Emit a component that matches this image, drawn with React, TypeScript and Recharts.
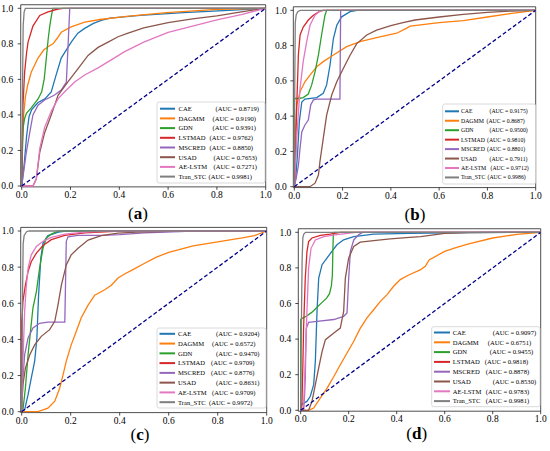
import React from "react";
import { LineChart, Line, XAxis, YAxis, ReferenceArea } from "recharts";

type P = [number, number];

const models = ["CAE", "DAGMM", "GDN", "LSTMAD", "MSCRED", "USAD", "AE-LSTM", "Tran_STC"];
const colors = ["#1f77b4", "#ff7f0e", "#2ca02c", "#d62728", "#9467bd", "#8c564b", "#e377c2", "#7f7f7f"];
const ticks = [0, 0.2, 0.4, 0.6, 0.8, 1.0];
const diagonal: P[] = [[0, 0], [1, 1]];

// AUC values from the legends
const aucA = [0.8719, 0.919, 0.9391, 0.9762, 0.885, 0.7653, 0.7271, 0.9981];
const aucB = [0.9175, 0.8687, 0.95, 0.981, 0.8801, 0.7911, 0.9712, 0.9986];
const aucC = [0.9204, 0.6572, 0.947, 0.9709, 0.8776, 0.8631, 0.9709, 0.9972];
const aucD = [0.9097, 0.6751, 0.9455, 0.9818, 0.8878, 0.853, 0.9783, 0.9981];

// (a) ROC curves, [fpr, tpr]
const A_CAE: P[] = [[0, 0], [0.01, 0.12], [0.02, 0.28], [0.03, 0.39], [0.041, 0.43], [0.067, 0.47], [0.095, 0.49], [0.121, 0.53], [0.14, 0.62], [0.162, 0.72], [0.203, 0.81], [0.23, 0.86], [0.258, 0.887], [0.294, 0.915], [0.326, 0.932], [0.362, 0.945], [0.485, 0.96], [0.663, 0.976], [0.867, 0.99], [1, 1]];
const A_DAGMM: P[] = [[0, 0], [0.003, 0.25], [0.008, 0.4], [0.015, 0.5], [0.025, 0.57], [0.039, 0.64], [0.067, 0.72], [0.09, 0.765], [0.108, 0.784], [0.128, 0.8], [0.145, 0.83], [0.162, 0.865], [0.203, 0.895], [0.258, 0.922], [0.321, 0.937], [0.43, 0.955], [0.594, 0.976], [0.8, 0.994], [1, 1]];
const A_GDN: P[] = [[0, 0], [0.003, 0.2], [0.006, 0.33], [0.012, 0.38], [0.02, 0.41], [0.039, 0.44], [0.067, 0.49], [0.082, 0.53], [0.092, 0.6], [0.101, 0.72], [0.108, 0.82], [0.115, 0.9], [0.122, 0.96], [0.128, 1], [1, 1]];
const A_LSTMAD: P[] = [[0, 0], [0.002, 0.2], [0.005, 0.45], [0.012, 0.64], [0.02, 0.75], [0.026, 0.81], [0.046, 0.9], [0.074, 0.96], [0.108, 0.98], [0.149, 0.996], [0.17, 1], [1, 1]];
const A_MSCRED: P[] = [[0, 0], [0.005, 0.05], [0.012, 0.12], [0.019, 0.19], [0.033, 0.3], [0.046, 0.4], [0.067, 0.455], [0.094, 0.484], [0.135, 0.512], [0.162, 0.54], [0.183, 0.585], [0.19, 0.79], [0.197, 1], [1, 1]];
const A_USAD: P[] = [[0, 0], [0.046, 0], [0.06, 0.04], [0.074, 0.19], [0.094, 0.3], [0.121, 0.4], [0.149, 0.51], [0.19, 0.587], [0.231, 0.66], [0.272, 0.735], [0.313, 0.78], [0.354, 0.81], [0.395, 0.84], [0.436, 0.86], [0.5, 0.89], [0.6, 0.92], [0.7, 0.94], [0.8, 0.957], [0.9, 0.98], [1, 1]];
const A_AELSTM: P[] = [[0, 0], [0.046, 0], [0.06, 0.04], [0.074, 0.21], [0.094, 0.33], [0.121, 0.42], [0.149, 0.49], [0.176, 0.53], [0.217, 0.585], [0.258, 0.625], [0.313, 0.665], [0.367, 0.71], [0.42, 0.755], [0.5, 0.81], [0.6, 0.865], [0.7, 0.9], [0.8, 0.935], [0.9, 0.965], [1, 1]];
const A_TRAN: P[] = [[0, 0], [0.003, 0.5], [0.006, 0.9], [0.01, 0.98], [0.015, 1], [1, 1]];

// (b)
const B_CAE: P[] = [[0, 0], [0.006, 0.05], [0.013, 0.18], [0.021, 0.37], [0.031, 0.48], [0.044, 0.497], [0.093, 0.505], [0.12, 0.53], [0.134, 0.577], [0.148, 0.69], [0.162, 0.84], [0.176, 0.915], [0.196, 0.963], [0.231, 0.992], [0.26, 1], [1, 1]];
const B_DAGMM: P[] = [[0, 0], [0.001, 0.05], [0.003, 0.27], [0.01, 0.46], [0.024, 0.54], [0.044, 0.595], [0.065, 0.633], [0.093, 0.68], [0.12, 0.709], [0.162, 0.747], [0.217, 0.794], [0.272, 0.822], [0.341, 0.845], [0.424, 0.87], [0.46, 0.895], [0.48, 0.91], [0.6, 0.93], [0.7, 0.942], [0.8, 0.962], [0.9, 0.982], [1, 1]];
const B_GDN: P[] = [[0, 0], [0, 0.5], [0.02, 0.5], [0.037, 0.505], [0.058, 0.525], [0.072, 0.577], [0.086, 0.652], [0.1, 0.747], [0.113, 0.86], [0.127, 0.972], [0.134, 1], [1, 1]];
const B_LSTMAD: P[] = [[0, 0], [0.003, 0.05], [0.007, 0.3], [0.01, 0.46], [0.014, 0.62], [0.017, 0.75], [0.024, 0.86], [0.037, 0.905], [0.058, 0.945], [0.079, 0.972], [0.106, 0.995], [0.12, 1], [1, 1]];
const B_MSCRED: P[] = [[0, 0], [0.008, 0.05], [0.017, 0.12], [0.024, 0.22], [0.031, 0.31], [0.044, 0.35], [0.058, 0.378], [0.068, 0.463], [0.079, 0.492], [0.093, 0.497], [0.189, 0.497], [0.192, 1], [1, 1]];
const B_USAD: P[] = [[0, 0], [0.065, 0], [0.086, 0.02], [0.1, 0.066], [0.106, 0.14], [0.12, 0.274], [0.134, 0.406], [0.155, 0.52], [0.176, 0.595], [0.203, 0.67], [0.231, 0.745], [0.258, 0.81], [0.3, 0.86], [0.341, 0.888], [0.4, 0.913], [0.45, 0.93], [0.5, 0.945], [0.6, 0.962], [0.7, 0.977], [0.8, 0.988], [0.9, 0.996], [1, 1]];
const B_AELSTM: P[] = [[0, 0], [0.004, 0.1], [0.01, 0.27], [0.017, 0.42], [0.024, 0.56], [0.037, 0.71], [0.051, 0.82], [0.065, 0.915], [0.086, 0.972], [0.106, 0.996], [0.12, 1], [1, 1]];
const B_TRAN: P[] = [[0, 0], [0.002, 0.6], [0.004, 0.93], [0.008, 0.975], [0.015, 0.993], [0.025, 1], [1, 1]];

// (c)
const C_CAE: P[] = [[0, 0], [0.012, 0.01], [0.026, 0.094], [0.039, 0.186], [0.053, 0.28], [0.062, 0.408], [0.069, 0.647], [0.078, 0.85], [0.087, 0.933], [0.107, 0.975], [0.15, 0.994], [0.18, 1], [1, 1]];
const C_DAGMM: P[] = [[0, 0], [0.067, 0], [0.107, 0.02], [0.135, 0.058], [0.155, 0.13], [0.169, 0.205], [0.182, 0.28], [0.202, 0.37], [0.223, 0.445], [0.243, 0.52], [0.271, 0.59], [0.298, 0.645], [0.339, 0.675], [0.366, 0.7], [0.393, 0.74], [0.42, 0.762], [0.454, 0.786], [0.5, 0.82], [0.55, 0.855], [0.6, 0.882], [0.7, 0.918], [0.8, 0.94], [0.9, 0.962], [0.95, 0.975], [1, 1]];
const C_GDN: P[] = [[0, 0], [0.005, 0.01], [0.015, 0.13], [0.026, 0.315], [0.037, 0.46], [0.046, 0.575], [0.06, 0.665], [0.073, 0.795], [0.087, 0.905], [0.1, 0.96], [0.121, 0.983], [0.15, 1], [1, 1]];
const C_LSTMAD: P[] = [[0, 0], [0, 0.5], [0.002, 0.53], [0.005, 0.61], [0.015, 0.7], [0.026, 0.775], [0.039, 0.83], [0.06, 0.878], [0.087, 0.92], [0.121, 0.952], [0.176, 0.976], [0.257, 0.99], [0.4, 1], [1, 1]];
const C_MSCRED: P[] = [[0, 0], [0.002, 0.08], [0.005, 0.185], [0.012, 0.315], [0.026, 0.408], [0.046, 0.463], [0.073, 0.489], [0.107, 0.496], [0.176, 0.496], [0.182, 0.943], [0.189, 0.968], [0.23, 0.976], [0.325, 0.976], [0.4, 0.98], [0.5, 0.99], [0.7, 1], [1, 1]];
const C_USAD: P[] = [[0, 0], [0.002, 0.07], [0.005, 0.15], [0.015, 0.24], [0.033, 0.315], [0.053, 0.37], [0.08, 0.417], [0.114, 0.454], [0.135, 0.5], [0.148, 0.59], [0.162, 0.7], [0.182, 0.812], [0.202, 0.868], [0.23, 0.905], [0.271, 0.95], [0.325, 0.975], [0.393, 0.988], [0.47, 0.994], [0.6, 0.998], [1, 1]];
const C_AELSTM: P[] = [[0, 0], [0.001, 0.02], [0.005, 0.28], [0.012, 0.555], [0.019, 0.7], [0.026, 0.795], [0.039, 0.868], [0.06, 0.915], [0.087, 0.943], [0.121, 0.965], [0.176, 0.983], [0.257, 0.994], [0.35, 1], [1, 1]];
const C_TRAN: P[] = [[0, 0], [0.003, 0.6], [0.006, 0.93], [0.01, 0.975], [0.02, 0.996], [0.03, 1], [1, 1]];

// (d)
const D_CAE: P[] = [[0, 0], [0, 0.03], [0.026, 0.05], [0.04, 0.079], [0.054, 0.144], [0.061, 0.275], [0.068, 0.555], [0.075, 0.743], [0.089, 0.818], [0.11, 0.856], [0.13, 0.893], [0.151, 0.93], [0.179, 0.958], [0.221, 0.976], [0.304, 0.99], [0.45, 0.994], [0.7, 0.998], [1, 1]];
const D_DAGMM: P[] = [[0, 0], [0.033, 0], [0.054, 0.013], [0.082, 0.07], [0.11, 0.125], [0.138, 0.19], [0.165, 0.256], [0.193, 0.322], [0.221, 0.388], [0.248, 0.46], [0.276, 0.519], [0.304, 0.565], [0.332, 0.612], [0.36, 0.65], [0.387, 0.697], [0.415, 0.734], [0.45, 0.76], [0.5, 0.79], [0.52, 0.81], [0.535, 0.845], [0.6, 0.893], [0.65, 0.915], [0.7, 0.935], [0.8, 0.968], [0.9, 0.988], [1, 1]];
const D_GDN: P[] = [[0, 0], [0, 0.51], [0.004, 0.515], [0.025, 0.53], [0.046, 0.55], [0.067, 0.578], [0.088, 0.605], [0.108, 0.63], [0.12, 0.655], [0.128, 0.7], [0.132, 0.76], [0.134, 0.9], [0.136, 0.985], [0.14, 1], [1, 1]];
const D_LSTMAD: P[] = [[0, 0], [0.005, 0.02], [0.009, 0.25], [0.012, 0.46], [0.019, 0.74], [0.026, 0.89], [0.033, 0.948], [0.047, 0.968], [0.082, 0.983], [0.123, 0.99], [0.165, 1], [1, 1]];
const D_MSCRED: P[] = [[0, 0], [0.012, 0], [0.016, 0.08], [0.019, 0.18], [0.023, 0.46], [0.033, 0.494], [0.068, 0.5], [0.138, 0.51], [0.179, 0.528], [0.193, 0.547], [0.2, 0.743], [0.207, 0.893], [0.221, 0.957], [0.242, 0.987], [0.26, 1], [1, 1]];
const D_USAD: P[] = [[0, 0], [0.033, 0], [0.047, 0.05], [0.061, 0.144], [0.075, 0.238], [0.089, 0.33], [0.103, 0.397], [0.138, 0.434], [0.165, 0.462], [0.179, 0.556], [0.186, 0.743], [0.2, 0.856], [0.221, 0.92], [0.248, 0.945], [0.304, 0.953], [0.373, 0.963], [0.44, 0.97], [0.5, 0.976], [0.6, 0.994], [0.7, 0.998], [1, 1]];
const D_AELSTM: P[] = [[0, 0], [0.012, 0.013], [0.019, 0.275], [0.026, 0.555], [0.033, 0.8], [0.043, 0.91], [0.061, 0.957], [0.096, 0.976], [0.151, 0.987], [0.23, 1], [1, 1]];
const D_TRAN: P[] = [[0, 0], [0.003, 0.5], [0.006, 0.85], [0.009, 0.97], [0.013, 0.99], [0.02, 1], [1, 1]];

const Y_MIN = -0.005;
const Y_MAX = 1.02;
const SERIF = "'Liberation Serif', 'Times New Roman', Times, serif";

const toPts = (arr: P[]) => arr.map(([x, y]) => ({ x, y }));

type Panel = {
  letter: string;
  qx: number; qy: number; // chart origin on page
  x0: number; x1: number; y0: number; y1: number; // page px of data 0 and 1
  xMin: number;
  yTickMargin: number;
  curves: P[][];
  auc: number[];
  legend: { bx: number; by: number; bw: number; bh: number; s0: number; s1: number; nx: number; ry: number; dy: number; off: number[]; fs: number };
  label: { x: number; y: number };
};

const panels: Panel[] = [
  {
    letter: "a", qx: 0, qy: 0, x0: 21.7, x1: 265.7, y0: 186, y1: 8.3, xMin: -0.004, yTickMargin: 4.5,
    curves: [A_CAE, A_DAGMM, A_GDN, A_LSTMAD, A_MSCRED, A_USAD, A_AELSTM, A_TRAN], auc: aucA,
    legend: { bx: 157, by: 102, bw: 108, bh: 81, s0: 160, s1: 175, nx: 178.5, ry: 108.7, dy: 9.7, off: [37, 34, 34, 31, 31, 35, 35, 30], fs: 6.6 },
    label: { x: 138, y: 219 },
  },
  {
    letter: "b", qx: 275, qy: 0, x0: 294.3, x1: 535.7, y0: 186.7, y1: 10.3, xMin: -0.004, yTickMargin: 3.5,
    curves: [B_CAE, B_DAGMM, B_GDN, B_LSTMAD, B_MSCRED, B_USAD, B_AELSTM, B_TRAN], auc: aucB,
    legend: { bx: 442.7, by: 104, bw: 93, bh: 80, s0: 445, s1: 459, nx: 461, ry: 111.3, dy: 9.45, off: [28.5, 25.5, 28.5, 26, 26, 28.5, 29.5, 26.5], fs: 5.8 },
    label: { x: 415, y: 219.5 },
  },
  {
    letter: "c", qx: 0, qy: 225, x0: 21.7, x1: 266.7, y0: 411.7, y1: 231, xMin: -0.004, yTickMargin: 4,
    curves: [C_CAE, C_DAGMM, C_GDN, C_LSTMAD, C_MSCRED, C_USAD, C_AELSTM, C_TRAN], auc: aucC,
    legend: { bx: 157, by: 328, bw: 109, bh: 80, s0: 159.5, s1: 175, nx: 178, ry: 333.8, dy: 9.77, off: [38, 34, 38, 33, 33, 38, 34, 31], fs: 6.6 },
    label: { x: 140, y: 440 },
  },
  {
    letter: "d", qx: 275, qy: 225, x0: 300.7, x1: 540.7, y0: 410.3, y1: 232.3, xMin: -0.01, yTickMargin: 4,
    curves: [D_CAE, D_DAGMM, D_GDN, D_LSTMAD, D_MSCRED, D_USAD, D_AELSTM, D_TRAN], auc: aucD,
    legend: { bx: 431.7, by: 326.7, bw: 108.3, bh: 80, s0: 434, s1: 450, nx: 452.7, ry: 332.5, dy: 9.8, off: [40, 35, 37, 32, 33, 40, 33, 33], fs: 6.6 },
    label: { x: 416.7, y: 438.5 },
  },
];

const W = 275;
const H = 225;

function RocPanel({ p }: { p: Panel }) {
  const sx = p.x1 - p.x0;
  const sy = p.y0 - p.y1;
  const plotLeft = p.x0 + p.xMin * sx;
  const plotTop = p.y1 - (Y_MAX - 1) * sy;
  const plotBottom = p.y0 - Y_MIN * sy;
  const tickStyle = { fill: "#000", fontSize: 9.5, fontFamily: SERIF };

  return (
    <div style={{ position: "absolute", left: p.qx, top: p.qy }}>
      <LineChart
        width={W}
        height={H}
        margin={{ top: plotTop - p.qy, right: p.qx + W - p.x1, bottom: 0, left: 0 }}
      >
        <XAxis
          type="number"
          dataKey="x"
          domain={[p.xMin, 1]}
          ticks={ticks}
          allowDataOverflow
          height={p.qy + H - plotBottom}
          axisLine={false}
          tickLine={{ stroke: "#000", strokeWidth: 0.7 }}
          tickSize={3}
          tickMargin={1.5}
          tick={tickStyle}
          tickFormatter={(v: number) => v.toFixed(1)}
        />
        <YAxis
          type="number"
          dataKey="y"
          domain={[Y_MIN, Y_MAX]}
          ticks={ticks}
          allowDataOverflow
          width={plotLeft - p.qx}
          axisLine={false}
          tickLine={{ stroke: "#000", strokeWidth: 0.7 }}
          tickSize={3}
          tickMargin={p.yTickMargin}
          tick={tickStyle}
          tickFormatter={(v: number) => v.toFixed(1)}
        />
        <ReferenceArea x1={p.xMin} x2={1} y1={Y_MIN} y2={Y_MAX} fill="none" stroke="#222" strokeWidth={0.8} />
        {p.curves.map((c, i) => (
          <Line
            key={models[i]}
            data={toPts(c)}
            dataKey="y"
            type="linear"
            stroke={colors[i]}
            strokeWidth={1.3}
            dot={false}
            activeDot={false}
            isAnimationActive={false}
          />
        ))}
        <Line
          data={toPts(diagonal)}
          dataKey="y"
          type="linear"
          stroke="#00008b"
          strokeWidth={1.3}
          strokeDasharray="4 2.3"
          dot={false}
          activeDot={false}
          isAnimationActive={false}
        />
      </LineChart>
    </div>
  );
}

function Overlay() {
  return (
    <svg width={550} height={451} style={{ position: "absolute", left: 0, top: 0, pointerEvents: "none", fontFamily: SERIF }}>
      {panels.map((p) => {
        const L = p.legend;
        return (
          <g key={p.letter}>
            <rect x={L.bx} y={L.by} width={L.bw} height={L.bh} rx={2} fill="#fff" fillOpacity={0.85} stroke="#d0d0d0" strokeWidth={0.8} />
            {models.map((m, i) => {
              const y = L.ry + i * L.dy;
              return (
                <g key={m}>
                  <line x1={L.s0} x2={L.s1} y1={y} y2={y} stroke={colors[i]} strokeWidth={2} />
                  <text x={L.nx} y={y} dy="0.35em" fontSize={L.fs} fill="#000">{m}</text>
                  <text x={L.nx + L.off[i]} y={y} dy="0.35em" fontSize={L.fs} fill="#000">
                    {`(AUC = ${p.auc[i].toFixed(4)})`}
                  </text>
                </g>
              );
            })}
            <text x={p.label.x} y={p.label.y} textAnchor="middle" fontSize={17} fill="#000">
              (<tspan fontWeight="bold">{p.letter}</tspan>)
            </text>
          </g>
        );
      })}
    </svg>
  );
}

export default function App() {
  return (
    <div style={{ position: "absolute", left: 0, top: 0, width: 550, height: 451, background: "#fff", overflow: "hidden", fontFamily: SERIF }}>
      {panels.map((p) => (
        <RocPanel key={p.letter} p={p} />
      ))}
      <Overlay />
    </div>
  );
}
